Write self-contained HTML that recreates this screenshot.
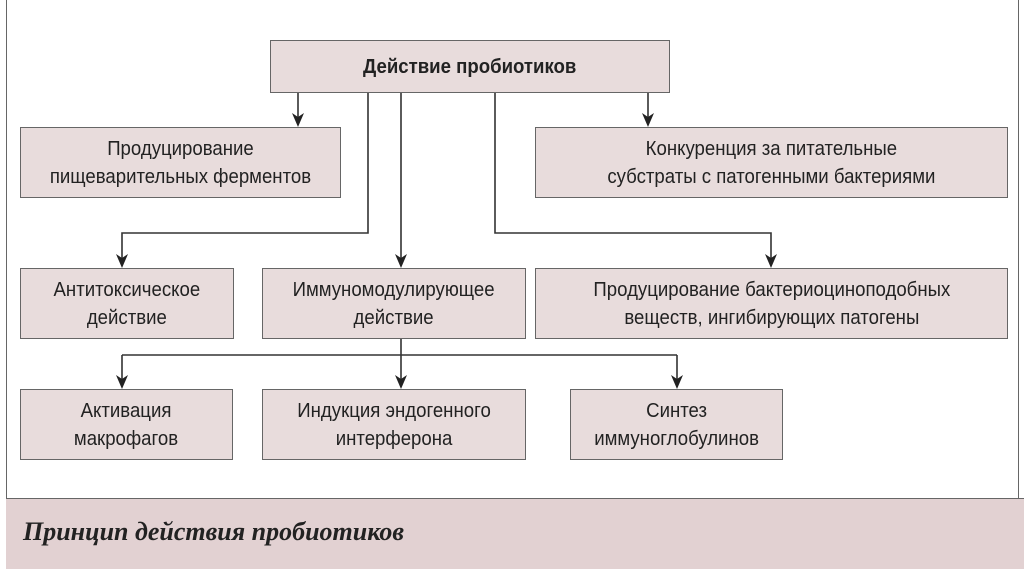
<!DOCTYPE html>
<html><head><meta charset="utf-8"><style>
body{margin:0;width:1024px;height:568px;background:#fff;position:relative;overflow:hidden;font-family:"Liberation Sans","DejaVu Sans",sans-serif;}
.frame{position:absolute;left:6px;top:-1px;width:1011px;height:498px;border:1px solid #666;}
.band{position:absolute;left:6px;top:498px;width:1018px;height:70px;background:#e2d1d2;border-top:1px solid #666;}
.cap{position:absolute;left:23px;top:517px;font-family:"Liberation Serif",serif;font-style:italic;font-weight:bold;font-size:26px;color:#222;}
.b{position:absolute;background:#e8dcdc;border:1px solid #666;box-sizing:border-box;display:flex;align-items:center;justify-content:center;text-align:center;font-size:20px;line-height:28px;color:#222;}
.b span{display:inline-block;transform:scaleX(.93);white-space:nowrap;}
svg{position:absolute;left:0;top:0}
</style></head><body>
<div class="frame"></div>
<svg width="1024" height="568">
<g stroke="#333" stroke-width="1.6" fill="none">
<path d="M298 92V120M648 92V120M368 92V233H122V261M401 92V261M495 92V233H771V261M401 338V355M122 355H677M122 355V382M401 355V382M677 355V382"/>
</g>
<g fill="#222">
<path d="M292 113L298 127L304 113L298 117Z"/>
<path d="M642 113L648 127L654 113L648 117Z"/>
<path d="M116 254L122 268L128 254L122 258Z"/>
<path d="M395 254L401 268L407 254L401 258Z"/>
<path d="M765 254L771 268L777 254L771 258Z"/>
<path d="M116 375L122 389L128 375L122 379Z"/>
<path d="M395 375L401 389L407 375L401 379Z"/>
<path d="M671 375L677 389L683 375L677 379Z"/>
</g>
</svg>
<div class="b" style="left:270px;top:40px;width:400px;height:53px;font-weight:bold;"><span>Действие пробиотиков</span></div>
<div class="b" style="left:20px;top:127px;width:321px;height:71px;"><span>Продуцирование<br>пищеварительных ферментов</span></div>
<div class="b" style="left:535px;top:127px;width:473px;height:71px;"><span>Конкуренция за питательные<br>субстраты с патогенными бактериями</span></div>
<div class="b" style="left:20px;top:268px;width:214px;height:71px;"><span>Антитоксическое<br>действие</span></div>
<div class="b" style="left:262px;top:268px;width:264px;height:71px;"><span>Иммуномодулирующее<br>действие</span></div>
<div class="b" style="left:535px;top:268px;width:473px;height:71px;"><span>Продуцирование бактериоциноподобных<br>веществ, ингибирующих патогены</span></div>
<div class="b" style="left:20px;top:389px;width:213px;height:71px;"><span>Активация<br>макрофагов</span></div>
<div class="b" style="left:262px;top:389px;width:264px;height:71px;"><span>Индукция эндогенного<br>интерферона</span></div>
<div class="b" style="left:570px;top:389px;width:213px;height:71px;"><span>Синтез<br>иммуноглобулинов</span></div>
<div class="band"></div>
<div class="cap">Принцип действия пробиотиков</div>
</body></html>
